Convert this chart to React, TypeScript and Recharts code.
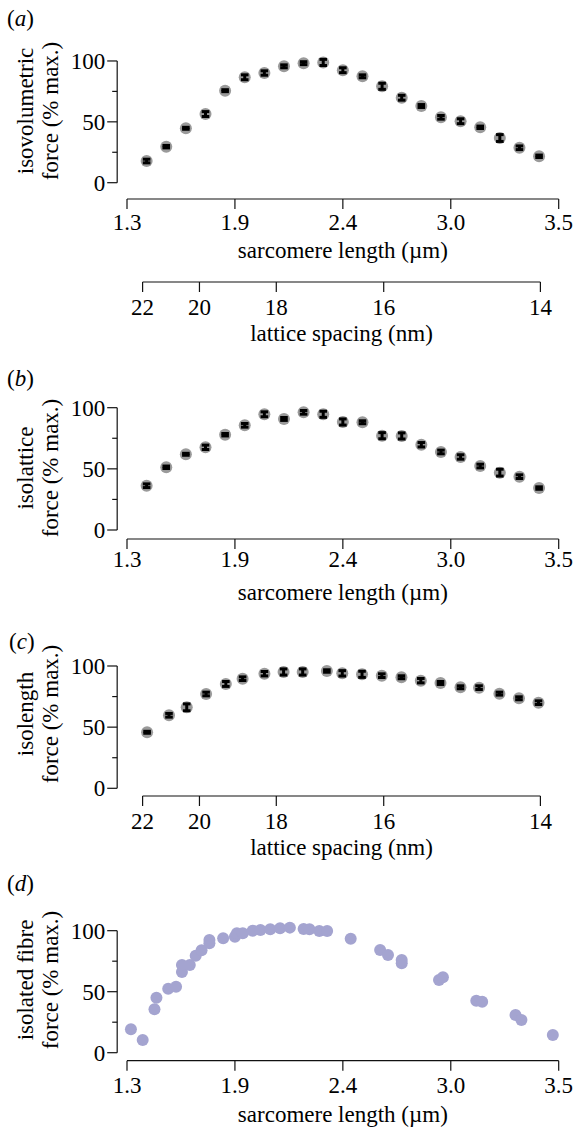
import { ScatterChart, Scatter, XAxis, YAxis, ErrorBar, ReferenceLine } from "recharts"

const FONT = '"Liberation Serif", "Times New Roman", Times, serif'
const FS = 23
const INK = "#111"
const GREY = "#9a9a9a"
const LAVENDER = "#a4a4d0"

// sarcomere length steps used in (a) and (b), µm
const sarcomere = [1.4, 1.5, 1.6, 1.7, 1.8, 1.9, 2.0, 2.1, 2.2, 2.3, 2.4, 2.5, 2.6, 2.7, 2.8, 2.9, 3.0, 3.1, 3.2, 3.3, 3.4]

// (a) isovolumetric
const isovolForce = [17.8, 29.6, 44.7, 56.4, 75.6, 86.6, 90.1, 95.6, 98.2, 98.8, 92.4, 87.4, 79.2, 69.8, 63.0, 53.7, 50.5, 45.5, 36.7, 28.7, 21.7]
const isovolErr = [1.5, 1, 0.8, 2, 0.8, 2, 1.8, 1.2, 1.2, 2.5, 2, 1.2, 2.5, 2, 1.2, 1.5, 2, 1, 2.8, 1.5, 1]

// (b) isolattice
const isolatticeForce = [36.2, 51.3, 61.9, 67.6, 77.9, 85.6, 94.6, 90.8, 96.2, 94.6, 88.3, 88.1, 77.1, 76.9, 69.7, 63.8, 59.7, 52.3, 46.9, 43.6, 34.3]
const isolatticeErr = [1.5, 1, 0.8, 1.8, 1, 1.5, 2, 1.2, 1.5, 2.5, 2.5, 1.2, 2.5, 2.5, 1.8, 1.5, 1.8, 1.5, 2.8, 1.5, 1]

// (c) isolength, x is lattice spacing in nm
const lattice = [21.82, 21.0, 20.4, 19.8, 19.24, 18.8, 18.27, 17.84, 17.44, 16.97, 16.69, 16.35, 16.03, 15.73, 15.45, 15.18, 14.92, 14.69, 14.45, 14.23, 14.02]
const isolengthForce = [45.8, 59.7, 66.2, 77.1, 85.3, 89.6, 93.7, 95.1, 95.1, 95.9, 94.0, 93.2, 92.1, 90.8, 88.0, 86.1, 82.6, 82.3, 77.4, 73.6, 70.0]
const isolengthErr = [0.8, 1.5, 2.8, 1.5, 2, 1.5, 1.8, 2.5, 2.5, 1, 2.2, 2.5, 1.5, 1.2, 1.8, 1.2, 1.2, 1.5, 1.2, 1.2, 1.5]

// (d) isolated fibre
const fibreSL = [1.32, 1.38, 1.44, 1.45, 1.51, 1.55, 1.58, 1.58, 1.62, 1.65, 1.68, 1.72, 1.72, 1.79, 1.85, 1.86, 1.89, 1.94, 1.98, 2.03, 2.08, 2.13, 2.2, 2.23, 2.28, 2.32, 2.44, 2.59, 2.63, 2.7, 2.7, 2.89, 2.91, 3.08, 3.11, 3.28, 3.31, 3.47]
const fibreForce = [19.2, 10.4, 35.6, 45.1, 52.5, 54.1, 66.1, 71.9, 71.9, 79.5, 83.9, 89.7, 92.4, 93.8, 95.1, 97.9, 97.9, 100, 100.6, 101.1, 102, 102.5, 101.4, 101.1, 99.8, 99.8, 93.4, 84.2, 80.1, 73.3, 76, 59.6, 61.8, 42.6, 41.8, 30.9, 26.8, 14.5]

const slTicks = [1.3, 1.85, 2.4, 2.95, 3.5]
const slTickLabels = ["1.3", "1.9", "2.4", "3.0", "3.5"]
const latticeTicks = [22, 20, 18, 16, 14]
const forceTicks = [0, 25, 50, 75, 100]

// constant lattice volume: spacing * sqrt(sarcomere length)
const K = 25.84
const slFromLattice = (d: number) => (K / d) ** 2
const latticeDomain = [slFromLattice(22), slFromLattice(14)]
const latticeTickPos = latticeTicks.map(slFromLattice)
const latticeLabel = (v: number) => String(Math.round(K / Math.sqrt(v)))
const slLabel = (v: number) => slTickLabels[slTicks.indexOf(v)] ?? ""

// the detached y axis sits at this sarcomere length
const Y_AXIS_AT = 1.25
const yAxisSegment = [{ x: Y_AXIS_AT, y: 0 }, { x: Y_AXIS_AT, y: 100 }]

const rows = (xs: number[], ys: number[], errs?: number[]) =>
  xs.map((x, i) => ({ x, y: ys[i], err: errs ? errs[i] : 0 }))

const dataA = rows(sarcomere, isovolForce, isovolErr)
const dataB = rows(sarcomere, isolatticeForce, isolatticeErr)
const dataC = rows(lattice.map(slFromLattice), isolengthForce, isolengthErr)
const dataD = rows(fibreSL, fibreForce)

const axisStyle = { stroke: INK, strokeWidth: 1.2 }
const tickText = { fill: "#000", fontFamily: FONT, fontSize: FS }

const greyDot = (p: any) => <circle cx={p.cx} cy={p.cy} r={6} fill={GREY} />
const lavDot = (p: any) => <circle cx={p.cx} cy={p.cy} r={6} fill={LAVENDER} />
const noDot = () => <g />

function ForceTick({ x, y, payload, gap }: any) {
  const x0 = x - gap
  const major = payload.value % 50 === 0
  return (
    <g>
      <line x1={x0} x2={x0 - (major ? 10 : 5)} y1={y} y2={y} stroke={INK} strokeWidth={1.2} />
      {major && (
        <text x={x0 - 12} y={y} dy="0.34em" textAnchor="end" fontFamily={FONT} fontSize={FS} fill="#000">
          {payload.value}
        </text>
      )}
    </g>
  )
}

const xTitle = (text: string, dy: number) => (p: any) => {
  const vb = p.viewBox
  return (
    <text x={vb.x + vb.width / 2} y={vb.y + dy} textAnchor="middle" fontFamily={FONT} fontSize={FS} fill="#000">
      {text}
    </text>
  )
}

const sideTitle = (letter: string, first: string, cy: number, letterX: number, letterY: number) => () => (
  <g fontFamily={FONT} fontSize={FS} fill="#000">
    <text x={letterX} y={letterY}>
      (<tspan fontStyle="italic">{letter}</tspan>)
    </text>
    <text x={33} y={cy} textAnchor="middle" transform={`rotate(-90, 33, ${cy})`}>
      {first}
    </text>
    <text x={58} y={cy} textAnchor="middle" transform={`rotate(-90, 58, ${cy})`}>
      force (% max.)
    </text>
  </g>
)

function ForcePanel({ height, top, padBottom, axisHeight, tickMargin, titleDy, side, data, lattice: isLattice, errors, dot }: any) {
  const left = isLattice ? 142.6 : 127
  const right = isLattice ? 32.6 : 14.3
  const gap = isLattice ? 25.4 : 9.8
  return (
    <ScatterChart width={573} height={height} margin={{ top, right, bottom: 0, left: 0 }}>
      {isLattice ? (
        <XAxis type="number" dataKey="x" domain={latticeDomain} ticks={latticeTickPos} interval={0}
          tickFormatter={latticeLabel} height={axisHeight} tickSize={10} tickMargin={tickMargin}
          axisLine={axisStyle} tickLine={axisStyle} tick={tickText}
          label={xTitle("lattice spacing (nm)", titleDy)} />
      ) : (
        <XAxis type="number" dataKey="x" domain={[1.3, 3.5]} ticks={slTicks} interval={0}
          tickFormatter={slLabel} height={axisHeight} tickSize={10} tickMargin={tickMargin}
          axisLine={axisStyle} tickLine={axisStyle} tick={tickText}
          label={xTitle("sarcomere length (µm)", titleDy)} />
      )}
      <YAxis type="number" dataKey="y" domain={[0, 104]} ticks={forceTicks} interval={0} width={left}
        padding={{ top: 0, bottom: padBottom }} axisLine={false} tickLine={false} tickSize={0} tickMargin={0}
        tick={(p: any) => <ForceTick {...p} gap={gap} />} label={side} />
      <ReferenceLine segment={yAxisSegment} ifOverflow="visible" stroke={INK} strokeWidth={1.2} />
      <Scatter data={data} shape={dot} isAnimationActive={false} zIndex={600} />
      {errors && (
        <Scatter data={data} shape={noDot} isAnimationActive={false} zIndex={700}>
          <ErrorBar dataKey="err" direction="y" width={3.8} strokeWidth={3} stroke="#000" zIndex={800} />
        </Scatter>
      )}
    </ScatterChart>
  )
}

function LatticeAxis() {
  return (
    <ScatterChart width={573} height={90} margin={{ top: 2, right: 32.6, bottom: 0, left: 142.6 }}>
      <XAxis type="number" dataKey="x" domain={latticeDomain} allowDataOverflow ticks={latticeTickPos} interval={0}
        tickFormatter={latticeLabel} height={78} tickSize={10} tickMargin={7}
        axisLine={axisStyle} tickLine={axisStyle} tick={tickText}
        label={xTitle("lattice spacing (nm)", 59)} />
      <YAxis hide type="number" domain={[0, 1]} allowDataOverflow />
    </ScatterChart>
  )
}

export default function App() {
  return (
    <div style={{ position: "relative", width: 573, height: 1129, background: "#fff" }}>
      <style>{"body{margin:0;background:#fff}"}</style>
      <div style={{ position: "absolute", top: 0, left: 0 }}>
        <ForcePanel height={270} top={56.1} padBottom={16.3} axisHeight={71} tickMargin={5} titleDy={59}
          side={sideTitle("a", "isovolumetric", 111, 7, 26)} data={dataA} errors dot={greyDot} />
      </div>
      <div style={{ position: "absolute", top: 270, left: 0 }}>
        <LatticeAxis />
      </div>
      <div style={{ position: "absolute", top: 360, left: 0 }}>
        <ForcePanel height={250} top={42.8} padBottom={9} axisHeight={71} tickMargin={2} titleDy={61}
          side={sideTitle("b", "isolattice", 108, 7, 26)} data={dataB} errors dot={greyDot} />
      </div>
      <div style={{ position: "absolute", top: 610, left: 0 }}>
        <ForcePanel height={250} top={51.1} padBottom={7.7} axisHeight={64} tickMargin={7} titleDy={59} lattice
          side={sideTitle("c", "isolength", 104, 9, 39)} data={dataC} errors dot={greyDot} />
      </div>
      <div style={{ position: "absolute", top: 860, left: 0 }}>
        <ForcePanel height={269} top={65.8} padBottom={8} axisHeight={68.3} tickMargin={6} titleDy={61}
          side={sideTitle("d", "isolated fibre", 120, 7, 31)} data={dataD} dot={lavDot} />
      </div>
    </div>
  )
}
